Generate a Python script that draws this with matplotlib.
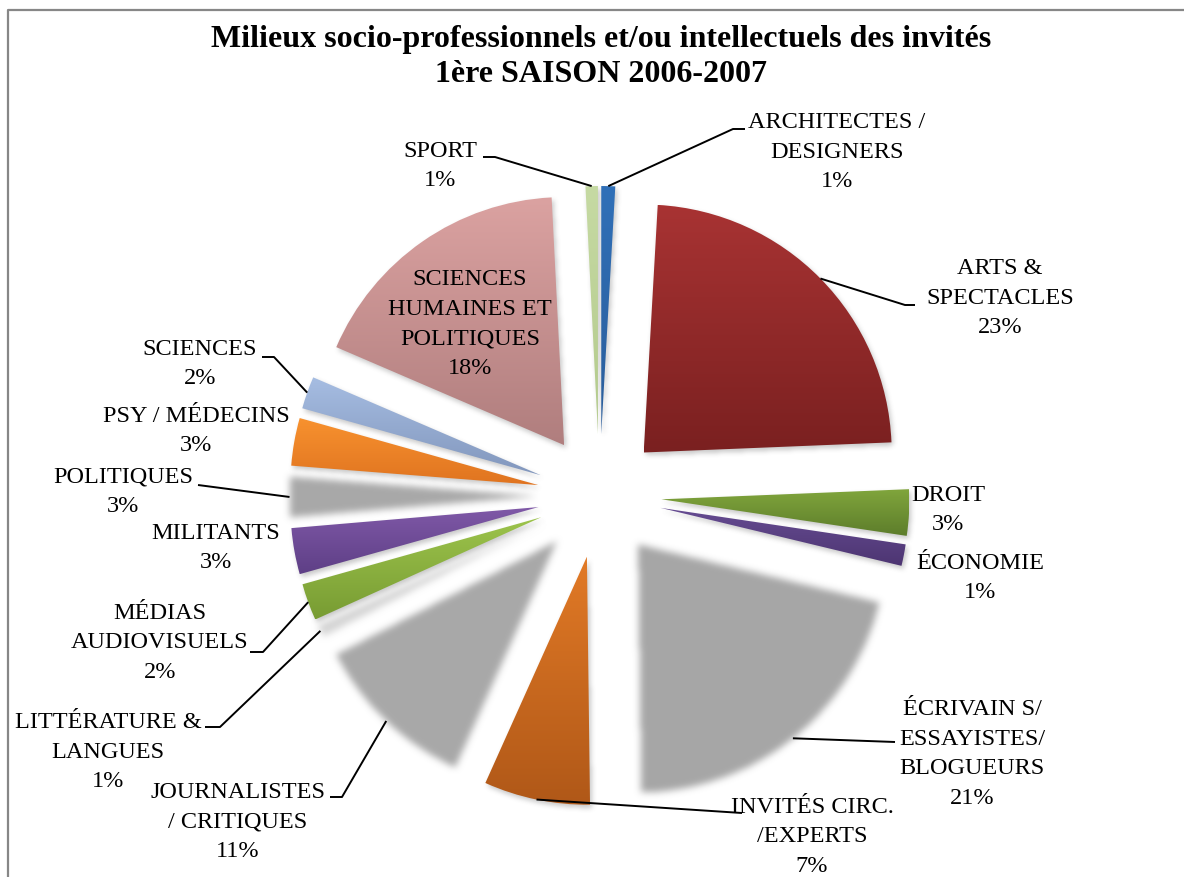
import numpy as np
import matplotlib.pyplot as plt

W, H = 1184, 877

# categories, clockwise from 12 o'clock
categories = ['ARCHITECTES /\nDESIGNERS', 'ARTS &\nSPECTACLES', 'DROIT', 'ÉCONOMIE',
              'ÉCRIVAIN S/\nESSAYISTES/\nBLOGUEURS', 'INVITÉS CIRC.\n/EXPERTS',
              'JOURNALISTES\n/ CRITIQUES', 'LITTÉRATURE &\nLANGUES',
              'MÉDIAS\nAUDIOVISUELS', 'MILITANTS', 'POLITIQUES', 'PSY / MÉDECINS',
              'SCIENCES', 'SCIENCES\nHUMAINES ET\nPOLITIQUES', 'SPORT']
# shares in percent
shares = [0.9, 23.4, 3.0, 1.4, 21.0, 6.9, 10.7, 0.8, 2.4, 3.0, 2.6, 3.1, 2.1, 17.7, 0.8]

# (top colour, bottom colour, soft-edged)
styles = [
    ('#3070b8', '#2a5d9a', False),
    ('#a83333', '#7a2020', False),
    ('#80a53c', '#5d7d2b', False),
    ('#664c92', '#4d3572', False),
    ('#a6a6a6', '#a6a6a6', True),
    ('#e27a26', '#b05818', False),
    ('#a8a8a8', '#a8a8a8', True),
    ('#d4d4d4', '#d4d4d4', True),
    ('#9dc44c', '#789c33', False),
    ('#8059a8', '#5e3f86', False),
    ('#a8a8a8', '#a8a8a8', True),
    ('#f8922f', '#e07420', False),
    ('#a6bde2', '#8297bd', False),
    ('#dba2a1', '#b07e7e', False),
    ('#c6daa3', '#b3ca8c', False),
]

# label centres (pixels) and leader stubs near the labels
label_pos = [(837, 152), (1000, 298), (948, 510), (980, 578), (972, 754),
             (812, 837), (238, 822), (108, 752), (160, 643), (216, 548),
             (123, 492), (196, 431), (200, 364), (470, 324), (440, 166)]
leaders = {0: [(745, 129), (733, 129)], 1: [(915, 305), (905, 305)],
           4: [(895, 742)], 5: [(742, 813)], 6: [(330, 797), (342, 797)],
           7: [(205, 727), (220, 727)], 8: [(250, 652), (263, 652)],
           10: [(198, 485)], 12: [(262, 357), (274, 357)],
           14: [(483, 157), (495, 157)]}

centre = (599.5, 496)
radius = 248
explode_frac = 0.25

fig = plt.figure(figsize=(W / 100, H / 100), dpi=100)
ax = fig.add_axes([0, 0, 1, 1])

wedges, _ = ax.pie(shares, startangle=-90, counterclock=True, center=centre,
                   radius=radius, explode=[explode_frac * radius] * len(shares),
                   wedgeprops=dict(linewidth=0))


def blur(a, k, passes=3):
    ker = np.ones(k) / k
    for _ in range(passes):
        a = np.apply_along_axis(lambda m: np.convolve(m, ker, mode='same'), 0, a)
        a = np.apply_along_axis(lambda m: np.convolve(m, ker, mode='same'), 1, a)
    return a


def soft_patch(w, color, k, dx=0, dy=0, alpha=1.0, z=1):
    path = w.get_path()
    ext = path.get_extents()
    m = 3 * k
    x0, x1 = int(ext.x0) - m, int(ext.x1) + m
    y0, y1 = int(ext.y0) - m, int(ext.y1) + m
    xs = np.arange(x0, x1) + 0.5
    ys = np.arange(y0, y1) + 0.5
    gx, gy = np.meshgrid(xs, ys)
    mask = path.contains_points(np.c_[gx.ravel(), gy.ravel()]).reshape(gx.shape)
    a = blur(mask.astype(float), k) * alpha
    rgba = np.zeros(gx.shape + (4,))
    rgba[..., :3] = plt.matplotlib.colors.to_rgb(color)
    rgba[..., 3] = a
    ax.imshow(rgba, extent=(x0 + dx, x1 + dx, y1 + dy, y0 + dy), origin='upper',
              interpolation='bilinear', zorder=z)


for w, (top, bot, soft) in zip(wedges, styles):
    w.set_facecolor('none')
    if soft:
        soft_patch(w, top, 7, z=2)
        continue
    soft_patch(w, '#606060', 5, dx=2, dy=3, alpha=0.35, z=1)
    ext = w.get_path().get_extents()
    t = np.linspace(0, 1, 128)[:, None, None]
    c0 = np.array(plt.matplotlib.colors.to_rgb(top))
    c1 = np.array(plt.matplotlib.colors.to_rgb(bot))
    grad = c0 * (1 - t) + c1 * t
    im = ax.imshow(grad, extent=(ext.x0, ext.x1, ext.y1, ext.y0), origin='upper',
                   interpolation='bilinear', zorder=2)
    im.set_clip_path(w)

total = sum(shares)
for i, (w, name) in enumerate(zip(wedges, categories)):
    pct = round(shares[i] / total * 100)
    x, y = label_pos[i]
    ax.text(x, y, f'{name}\n{pct}%', ha='center', va='center', ma='center',
            fontsize=17.5, family='Liberation Serif', linespacing=1.55, zorder=5)
    if i in leaders:
        th = np.radians((w.theta1 + w.theta2) / 2)
        ex = w.center[0] + w.r * np.cos(th)
        ey = w.center[1] + w.r * np.sin(th)
        pts = leaders[i] + [(ex, ey)]
        ax.plot([p[0] for p in pts], [p[1] for p in pts], color='black', lw=1.4,
                zorder=4, solid_capstyle='butt')

ax.text(601, 57, 'Milieux socio-professionnels et/ou intellectuels des invités\n'
        '1ère SAISON 2006-2007', ha='center', va='center', ma='center',
        fontsize=23, fontweight='bold', family='Liberation Serif', linespacing=1.3)

# chart border (cropped at right and bottom)
ax.plot([8, 8, W], [H, 10, 10], color='#878787', lw=1.6, clip_on=False, zorder=6)

ax.set_xlim(0, W)
ax.set_ylim(H, 0)
ax.set_aspect('equal')
ax.axis('off')
fig.savefig('out.png', dpi=100)
